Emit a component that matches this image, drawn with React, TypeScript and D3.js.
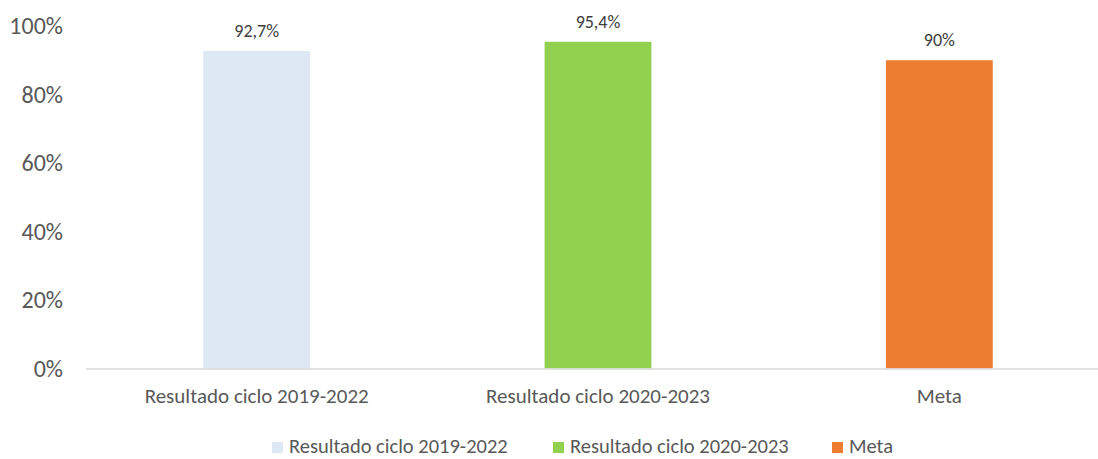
import React from "react";
import * as d3 from "d3";

const categories = ["Resultado ciclo 2019-2022", "Resultado ciclo 2020-2023", "Meta"];
const values = [92.7, 95.4, 90];
const valueLabels = ["92,7%", "95,4%", "90%"];
const colors = ["#dde8f4", "#92d050", "#ed7d31"];
const yTicks = [0, 20, 40, 60, 80, 100];

export default function App() {
  const width = 1098,
    height = 459;
  const margin = { top: 26, right: -12, bottom: 90, left: 86 };

  const x = d3
    .scaleBand()
    .domain(categories)
    .range([margin.left, width - margin.right])
    .paddingInner(0.687)
    .paddingOuter(0.3435);

  const y = d3
    .scaleLinear()
    .domain([0, 100])
    .range([height - margin.bottom - 0.5, margin.top]);

  const font = "Carlito, 'Open Sans', 'Liberation Sans', sans-serif";
  const textColor = "#595959";

  // legend square x positions
  const legendX = [272, 553, 832];

  return (
    <svg
      width={width}
      height={height}
      style={{ position: "absolute", left: 0, top: 0, fontFamily: font }}
    >
      {yTicks.map((t) => (
        <text
          key={t}
          x={63}
          y={y(t)}
          dy="0.35em"
          textAnchor="end"
          fontSize={24}
          fill={textColor}
        >
          {t}%
        </text>
      ))}

      {categories.map((c, i) => (
        <g key={c}>
          <rect
            x={x(c)}
            y={y(values[i])}
            width={x.bandwidth()}
            height={y(0) - y(values[i])}
            fill={colors[i]}
          />
          <text
            x={(x(c) as number) + x.bandwidth() / 2}
            y={y(values[i]) - 14}
            textAnchor="middle"
            fontSize={18}
            fill="#404040"
          >
            {valueLabels[i]}
          </text>
          <text
            x={(x(c) as number) + x.bandwidth() / 2}
            y={403}
            textAnchor="middle"
            fontSize={21}
            fill={textColor}
          >
            {c}
          </text>
        </g>
      ))}

      <line
        x1={margin.left}
        x2={width}
        y1={y(0) + 0.5}
        y2={y(0) + 0.5}
        stroke="#d9d9d9"
        strokeWidth={1.5}
      />

      {categories.map((c, i) => (
        <g key={"lg" + c} transform={`translate(${legendX[i]},442)`}>
          <rect x={0} y={0} width={11} height={11} fill={colors[i]} />
          <text x={17} y={11} fontSize={20.5} fill={textColor}>
            {c}
          </text>
        </g>
      ))}
    </svg>
  );
}
